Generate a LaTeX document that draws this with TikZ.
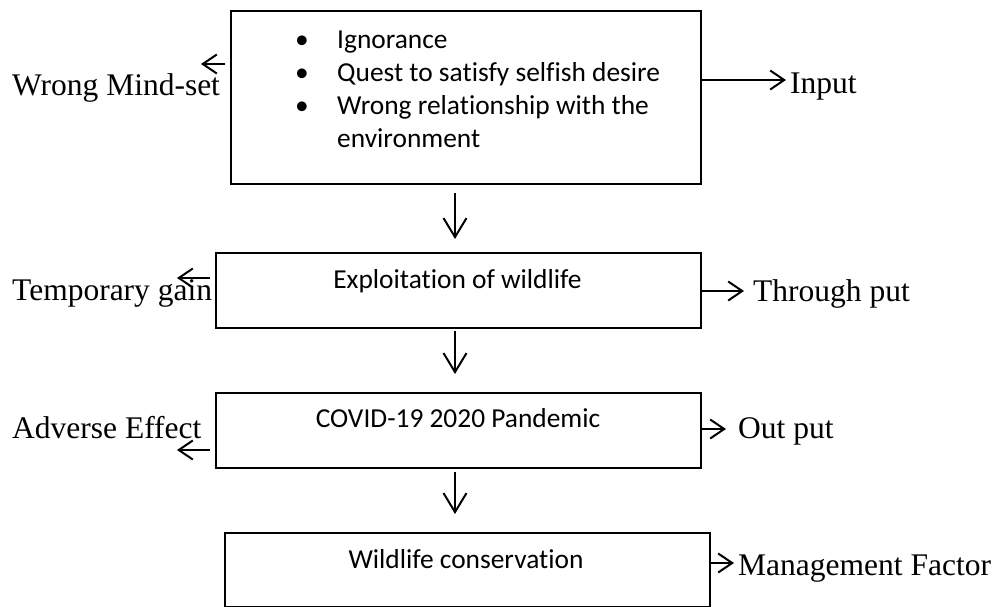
\documentclass[tikz,border=0pt]{standalone}
\usepackage{fontspec}
\setmainfont{Liberation Serif}
\newfontfamily\calibri[Ligatures=NoCommon]{Carlito}
\usetikzlibrary{arrows.meta}
\begin{document}
\begin{tikzpicture}[x=1pt,y=-1pt,
  box/.style={draw, line width=1.6pt, anchor=north west, inner sep=0pt},
  arr/.style={line width=2pt, -{Straight Barb[length=14pt,width=19pt,line width=2pt]}},
  darr/.style={line width=2pt, -{Straight Barb[length=19pt,width=23pt,line width=2pt]}},
  lab/.style={inner sep=0pt, font=\fontsize{31.5}{36}\selectfont},
  btxt/.style={inner sep=0pt, font=\calibri\fontsize{27.4}{32}\selectfont}]
\useasboundingbox (0,0) rectangle (997,606);
% boxes
\node[box, minimum width=470pt, minimum height=173pt] (b1) at (230,10) {};
\node[box, minimum width=485pt, minimum height=75pt] (b2) at (215,252) {};
\node[box, minimum width=485pt, minimum height=75pt] (b3) at (215,392) {};
\node[box, minimum width=485pt, minimum height=74pt] (b4) at (224,532) {};
% box texts
\node[btxt, anchor=base] (bu1) at (302,48) {\textbullet};
\node[btxt, anchor=base] (bu2) at (302,81) {\textbullet};
\node[btxt, anchor=base] (bu3) at (302,114) {\textbullet};
\node[btxt, anchor=base west] (t1) at (337,48) {Ignorance};
\node[btxt, anchor=base west] (t2) at (337,81) {Quest to satisfy selfish desire};
\node[btxt, anchor=base west] (t3) at (337,114) {Wrong relationship with the};
\node[btxt, anchor=base west] (t4) at (337,147) {environment};
\node[btxt, anchor=base] (t5) at (457.5,288) {Exploitation of wildlife};
\node[btxt, anchor=base] (t6) at (458,427) {COVID-19 2020 Pandemic};
\node[btxt, anchor=base] (t7) at (466,568) {Wildlife conservation};
% side labels
\node[lab, anchor=base west] (l1) at (12,95) {Wrong Mind-set};
\node[lab, anchor=base west] (r1) at (790,93) {Input};
\node[lab, anchor=base west] (l2) at (12,300) {Temporary gain};
\node[lab, anchor=base west] (r2) at (753,301) {Through put};
\node[lab, anchor=base west] (l3) at (12,438) {Adverse Effect};
\node[lab, anchor=base west] (r3) at (738,438) {Out put};
\node[lab, anchor=base west] (r4) at (738,575) {Management Factor};
% arrow end points
\coordinate (d1s) at (455,193); \coordinate (d1e) at (455,239);
\coordinate (d2s) at (455,331); \coordinate (d2e) at (455,374);
\coordinate (d3s) at (455,472); \coordinate (d3e) at (455,514);
\coordinate (a1s) at (225,64);  \coordinate (a1e) at (201,64);
\coordinate (a2s) at (210,278); \coordinate (a2e) at (177,278);
\coordinate (a3s) at (210,450); \coordinate (a3e) at (177,450);
\coordinate (c1e) at (786,80);
\coordinate (c2e) at (744,291);
\coordinate (c3e) at (726,429);
\coordinate (c4e) at (734,563);
% arrows
\draw[darr] (d1s) -- (d1e);
\draw[darr] (d2s) -- (d2e);
\draw[darr] (d3s) -- (d3e);
\draw[arr] (a1s) -- (a1e);
\draw[arr] (a2s) -- (a2e);
\draw[arr] (a3s) -- (a3e);
\draw[arr] (b1.east |- c1e) -- (c1e);
\draw[arr] (b2.east |- c2e) -- (c2e);
\draw[arr] (b3.east |- c3e) -- (c3e);
\draw[arr] (b4.east |- c4e) -- (c4e);
\end{tikzpicture}
\end{document}
